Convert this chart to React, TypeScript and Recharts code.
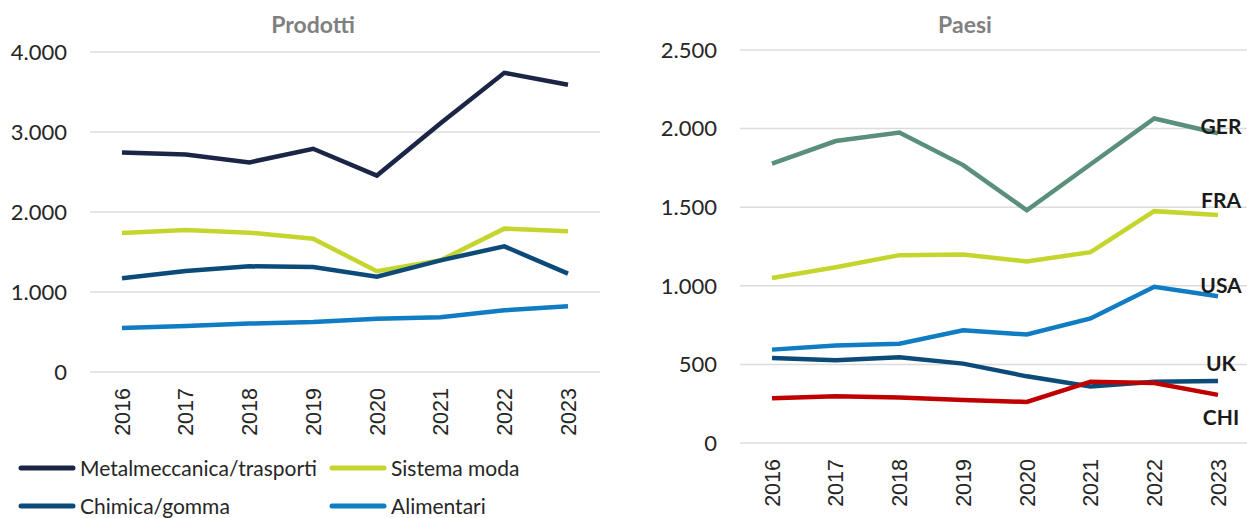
import React from 'react';
import { LineChart, Line, XAxis, YAxis, CartesianGrid } from 'recharts';

const FONT = 'Lato, "Open Sans", sans-serif';
const YEAR_FONT = '"Liberation Sans", Arial, sans-serif';

const years = ['2016', '2017', '2018', '2019', '2020', '2021', '2022', '2023'];

// Prodotti
const metalmeccanica = [2745, 2720, 2620, 2790, 2455, 3110, 3740, 3590];
const sistemaModa = [1738, 1775, 1742, 1667, 1259, 1396, 1792, 1759];
const chimica = [1171, 1263, 1321, 1313, 1192, 1396, 1571, 1229];
const alimentari = [550, 575, 605, 625, 667, 684, 771, 821];

// Paesi
const ger = [1777, 1921, 1975, 1768, 1480, 1773, 2064, 1970];
const fra = [1050, 1118, 1195, 1199, 1155, 1214, 1475, 1450];
const usa = [594, 620, 632, 717, 690, 792, 994, 934];
const uk = [541, 526, 545, 505, 424, 360, 390, 395];
const chi = [284, 297, 290, 274, 261, 390, 382, 306];

const leftTicks = [0, 1000, 2000, 3000, 4000];
const rightTicks = [0, 500, 1000, 1500, 2000, 2500];

const prodotti = [
  { key: 'metal', name: 'Metalmeccanica/trasporti', values: metalmeccanica, color: '#1b2546' },
  { key: 'moda', name: 'Sistema moda', values: sistemaModa, color: '#c4d52e' },
  { key: 'chimica', name: 'Chimica/gomma', values: chimica, color: '#0c4a7a' },
  { key: 'alim', name: 'Alimentari', values: alimentari, color: '#0f7cc3' },
];

const paesi = [
  { key: 'ger', name: 'GER', values: ger, color: '#5a8f7b' },
  { key: 'fra', name: 'FRA', values: fra, color: '#c4d52e' },
  { key: 'usa', name: 'USA', values: usa, color: '#0f7cc3' },
  { key: 'uk', name: 'UK', values: uk, color: '#0c4a7a' },
  { key: 'chi', name: 'CHI', values: chi, color: '#c00000' },
];

// vertical offset of the end labels on the right chart
const labelDy: Record<string, number> = { ger: -7, fra: -15, usa: -11, uk: -17, chi: 23 };

const buildRows = (series: { key: string; values: number[] }[]) =>
  years.map((year, i) => {
    const row: Record<string, string | number> = { year };
    series.forEach((s) => {
      row[s.key] = s.values[i];
    });
    return row;
  });

const prodottiData = buildRows(prodotti);
const paesiData = buildRows(paesi);

const fmt = (v: number) => String(v).replace(/\B(?=(\d{3})+(?!\d))/g, '.');

const YearTick = (props: any) => {
  const { x, y, payload } = props;
  return (
    <text
      x={x}
      y={y}
      transform={`rotate(-90, ${x}, ${y})`}
      textAnchor="end"
      dy="0.36em"
      fontSize={21.5}
      fill="#262626"
      fontFamily={YEAR_FONT}
    >
      {payload.value}
    </text>
  );
};

const tickStyle = { fontSize: 22, fill: '#262626', fontFamily: FONT };

const titleStyle: React.CSSProperties = {
  position: 'absolute',
  top: 9,
  fontFamily: FONT,
  fontWeight: 700,
  fontSize: 23,
  lineHeight: '30px',
  color: '#808080',
  transform: 'translateX(-50%)',
  whiteSpace: 'nowrap',
};

const EndLabel = (seriesKey: string) => (props: any) => {
  const { x, y, index } = props;
  if (index !== years.length - 1) return <g />;
  const s = paesi.find((p) => p.key === seriesKey)!;
  return (
    <text
      x={x + 3}
      y={y + labelDy[seriesKey]}
      dy="0.36em"
      textAnchor="middle"
      fontSize={21}
      fontWeight={700}
      fill="#1a1a1a"
      fontFamily={FONT}
    >
      {s.name}
    </text>
  );
};

function LegendItem({ name, color, x, y }: { name: string; color: string; x: number; y: number }) {
  return (
    <div style={{ position: 'absolute', left: x, top: y, display: 'flex', alignItems: 'center', whiteSpace: 'nowrap' }}>
      <svg width={58} height={8} style={{ marginRight: 4 }}>
        <line x1={3} y1={4} x2={55} y2={4} stroke={color} strokeWidth={5} strokeLinecap="round" />
      </svg>
      <span style={{ fontFamily: FONT, fontSize: 21, color: '#262626', lineHeight: '24px' }}>{name}</span>
    </div>
  );
}

export default function App() {
  const legendPos = [
    { x: 18, y: 456 },
    { x: 329, y: 456 },
    { x: 18, y: 494 },
    { x: 329, y: 494 },
  ];
  return (
    <div style={{ position: 'absolute', left: 0, top: 0, width: 1247, height: 518, overflow: 'hidden', background: '#fff' }}>
      <div style={{ ...titleStyle, left: 313 }}>Prodotti</div>
      <div style={{ ...titleStyle, left: 965 }}>Paesi</div>

      <div style={{ position: 'absolute', left: 0, top: 0 }}>
        <LineChart width={610} height={442} data={prodottiData} margin={{ top: 52, right: 10, bottom: 0, left: 0 }}>
          <CartesianGrid vertical={false} stroke="#dcdcdc" strokeWidth={1.5} />
          <XAxis
            dataKey="year"
            axisLine={false}
            tickLine={false}
            interval={0}
            height={70}
            tickMargin={10}
            padding={{ left: 32, right: 32 }}
            tick={<YearTick />}
          />
          <YAxis
            width={90}
            domain={[0, 4000]}
            ticks={leftTicks}
            axisLine={false}
            tickLine={false}
            tickMargin={17}
            tickFormatter={fmt}
            tick={tickStyle}
          />
          {prodotti.map((s) => (
            <Line
              key={s.key}
              dataKey={s.key}
              name={s.name}
              stroke={s.color}
              strokeWidth={4.5}
              dot={false}
              activeDot={false}
              isAnimationActive={false}
            />
          ))}
        </LineChart>
      </div>

      {prodotti.map((s, i) => (
        <LegendItem key={s.key} name={s.name} color={s.color} x={legendPos[i].x} y={legendPos[i].y} />
      ))}

      <div style={{ position: 'absolute', left: 620, top: 0 }}>
        <LineChart width={630} height={513} data={paesiData} margin={{ top: 50, right: 0, bottom: 0, left: 0 }}>
          <CartesianGrid vertical={false} stroke="#dcdcdc" strokeWidth={1.5} />
          <XAxis
            dataKey="year"
            axisLine={false}
            tickLine={false}
            interval={0}
            height={70}
            tickMargin={10}
            padding={{ left: 32, right: 32 }}
            tick={<YearTick />}
          />
          <YAxis
            width={120}
            domain={[0, 2500]}
            ticks={rightTicks}
            axisLine={false}
            tickLine={false}
            tickMargin={17}
            tickFormatter={fmt}
            tick={tickStyle}
          />
          {paesi.map((s) => (
            <Line
              key={s.key}
              dataKey={s.key}
              name={s.name}
              stroke={s.color}
              strokeWidth={4.5}
              dot={false}
              activeDot={false}
              isAnimationActive={false}
              label={EndLabel(s.key)}
            />
          ))}
        </LineChart>
      </div>
    </div>
  );
}
